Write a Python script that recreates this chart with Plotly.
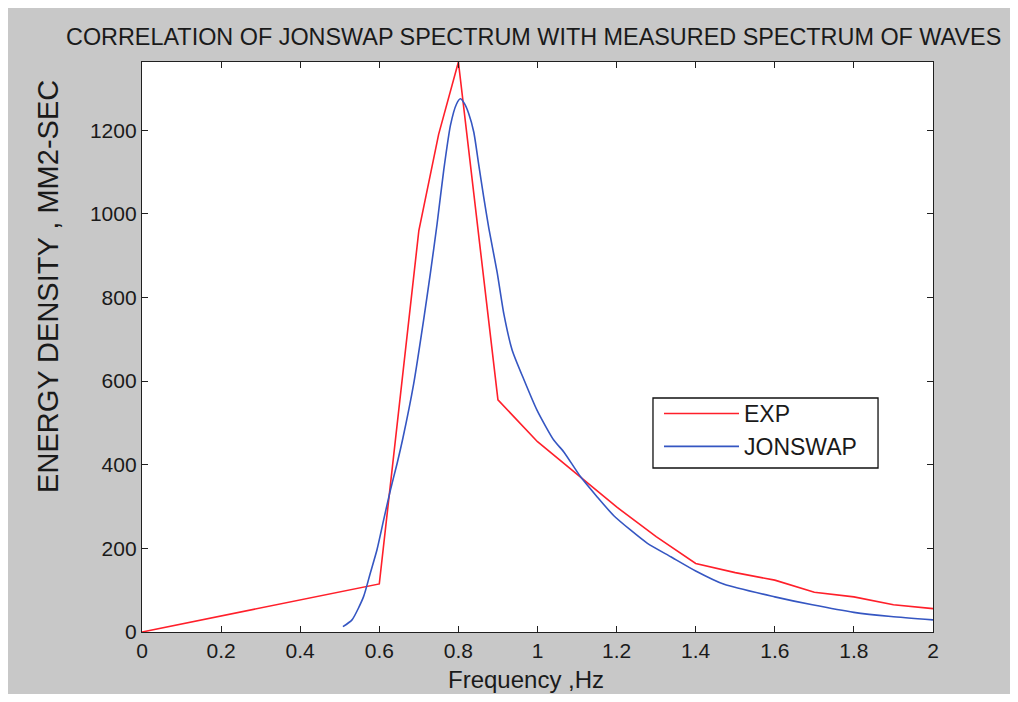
import plotly.graph_objects as go

# EXP (measured) spectrum
exp_freq = [0, 0.6, 0.7, 0.75, 0.8, 0.9, 1.0, 1.1, 1.2, 1.3, 1.4, 1.5, 1.6, 1.7, 1.8, 1.9, 2.0]
exp_energy = [0, 115, 960, 1190, 1363, 555, 455, 378, 299, 228, 164, 142, 124, 95, 84, 65, 56]

# JONSWAP spectrum
jon_freq = [0.508, 0.531, 0.56, 0.577, 0.594, 0.611, 0.628, 0.645, 0.66, 0.687, 0.712, 0.729,
            0.746, 0.763, 0.78, 0.795, 0.805, 0.815, 0.826, 0.839, 0.851, 0.864, 0.877, 0.898,
            0.915, 0.936, 0.965, 0.999, 1.041, 1.067, 1.109, 1.151, 1.193, 1.235, 1.278, 1.337,
            1.4, 1.472, 1.6, 1.695, 1.8, 1.894, 2.0]
jon_energy = [13, 29, 84, 140, 196, 268, 339, 403, 465, 594, 746, 857,
              975, 1105, 1212, 1262, 1275, 1264, 1240, 1195, 1120, 1040, 965, 860,
              760, 674, 605, 530, 459, 430, 371, 323, 278, 244, 212, 180,
              146, 114, 84, 65, 47, 37, 29]

x_ticks = [0, 0.2, 0.4, 0.6, 0.8, 1.0, 1.2, 1.4, 1.6, 1.8, 2.0]
x_tick_text = ["0", "0.2", "0.4", "0.6", "0.8", "1", "1.2", "1.4", "1.6", "1.8", "2"]
y_ticks = [0, 200, 400, 600, 800, 1000, 1200]
y_tick_text = ["0", "200", "400", "600", "800", "1000", "1200"]

FONT = "Liberation Sans, Arial, sans-serif"
TXT = "#1a1a1a"

fig = go.Figure()
fig.add_trace(go.Scatter(x=exp_freq, y=exp_energy, mode="lines", name="EXP",
                         line=dict(color="#ff1f2a", width=1.6)))
fig.add_trace(go.Scatter(x=jon_freq, y=jon_energy, mode="lines", name="JONSWAP",
                         line=dict(color="#3556c2", width=1.6, shape="spline", smoothing=0.6)))

axis_common = dict(showgrid=False, zeroline=False, showline=True, linecolor="#202020",
                   linewidth=1.3, mirror="ticks", ticks="inside", ticklen=6,
                   tickcolor="#202020", tickwidth=1.3,
                   tickfont=dict(family=FONT, size=21, color=TXT))

fig.update_layout(
    width=1002, height=686,
    paper_bgcolor="#c8c8c8", plot_bgcolor="#ffffff",
    margin=dict(l=134, r=77, t=54, b=62),
    showlegend=True,
    legend=dict(x=0.6536, y=0.421, xanchor="left", yanchor="top",
                bgcolor="rgba(0,0,0,0)", borderwidth=0,
                font=dict(family=FONT, size=23, color=TXT),
                itemwidth=75),
    xaxis=dict(range=[0, 2], tickvals=x_ticks, ticktext=x_tick_text, **axis_common),
    yaxis=dict(range=[0, 1363], tickvals=y_ticks, ticktext=y_tick_text, **axis_common),
    shapes=[
        dict(type="rect", xref="paper", yref="paper", x0=0.646, x1=0.9305, y0=0.2877, y1=0.4105,
             fillcolor="#ffffff", line=dict(color="#101010", width=1.3), layer="above"),
    ],
    annotations=[
        dict(text="CORRELATION OF JONSWAP SPECTRUM WITH MEASURED SPECTRUM OF WAVES",
             xref="paper", yref="paper", x=0.4955, y=1.044, xanchor="center", yanchor="middle",
             showarrow=False, font=dict(family=FONT, size=23.4, color=TXT)),
        dict(text="Frequency ,Hz", xref="paper", yref="paper", x=0.486, y=-0.084,
             xanchor="center", yanchor="middle", showarrow=False,
             font=dict(family=FONT, size=24, color=TXT)),
        dict(text="ENERGY DENSITY , MM2-SEC", xref="paper", yref="paper", x=-0.119, y=0.607,
             xanchor="center", yanchor="middle", textangle=-90, showarrow=False,
             font=dict(family=FONT, size=29, color=TXT)),
    ],
)

fig.write_html("out.html")
